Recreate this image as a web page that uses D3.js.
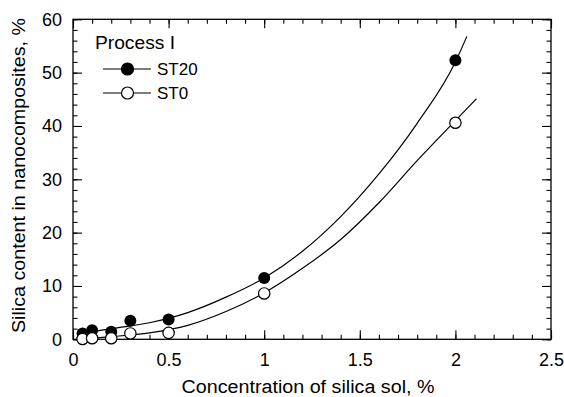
<!DOCTYPE html>
<html>
<head>
<meta charset="utf-8">
<script src="https://cdn.jsdelivr.net/npm/d3@7/dist/d3.min.js"></script>
<style>
body { margin: 0; background: #fff; }
text { font-family: "Liberation Sans", Arial, Helvetica, sans-serif; fill: #000; }
</style>
</head>
<body>
<div id="chart-area"></div>
<script>
// tick values
var xTicks = [0, 0.5, 1, 1.5, 2, 2.5];
var yTicks = [0, 10, 20, 30, 40, 50, 60];
var xMinor = d3.range(0, 2.51, 0.1);
var yMinor = d3.range(0, 60.1, 2);

// measured points
var sol = [0.05, 0.1, 0.2, 0.3, 0.5, 1, 2];
var st20 = [1.1, 1.7, 1.4, 3.5, 3.7, 11.5, 52.3];
var st0 = [0.06, 0.2, 0.2, 1.1, 1.2, 8.6, 40.6];

// fitted curves
var fit20X = [0.05, 0.1, 0.2, 0.4, 0.6, 0.8, 1.0, 1.2, 1.4, 1.6, 1.8, 2.0, 2.06];
var fit20Y = [1.1, 1.4, 2.0, 3.1, 5.0, 7.9, 11.5, 16.5, 23.0, 31.0, 40.5, 52.0, 56.8];
var fit0X = [0.05, 0.2, 0.4, 0.6, 0.8, 1.0, 1.2, 1.4, 1.6, 1.8, 2.0, 2.11];
var fit0Y = [0.1, 0.5, 1.2, 2.6, 5.2, 8.7, 13.3, 18.7, 25.6, 33.5, 41.0, 45.1];

var W = 564, H = 397;
var pLeft = 73, pRight = 551, pTop = 19.3, pBottom = 339.3;

var svg = d3.select("#chart-area").append("svg")
    .attr("width", W)
    .attr("height", H);

var x = d3.scaleLinear().domain([0, 2.5]).range([pLeft, pRight]);
var y = d3.scaleLinear().domain([0, 60]).range([pBottom, pTop]);

// minor ticks
svg.append("g").attr("transform", "translate(0," + pBottom + ")")
    .call(d3.axisBottom(x).tickValues(xMinor).tickSize(-4.5).tickFormat(""));
svg.append("g").attr("transform", "translate(0," + pTop + ")")
    .call(d3.axisTop(x).tickValues(xMinor).tickSize(-4.5).tickFormat(""));
svg.append("g").attr("transform", "translate(" + pLeft + ",0)")
    .call(d3.axisLeft(y).tickValues(yMinor).tickSize(-4.5).tickFormat(""));
svg.append("g").attr("transform", "translate(" + pRight + ",0)")
    .call(d3.axisRight(y).tickValues(yMinor).tickSize(-4.5).tickFormat(""));

// major ticks
svg.append("g").attr("class", "lab").attr("transform", "translate(0," + pBottom + ")")
    .call(d3.axisBottom(x).tickValues(xTicks).tickSize(-9).tickPadding(14).tickFormat(d3.format("")));
svg.append("g").attr("transform", "translate(0," + pTop + ")")
    .call(d3.axisTop(x).tickValues(xTicks).tickSize(-9).tickFormat(""));
svg.append("g").attr("class", "lab").attr("transform", "translate(" + pLeft + ",0)")
    .call(d3.axisLeft(y).tickValues(yTicks).tickSize(-9).tickPadding(11).tickFormat(d3.format("")));
svg.append("g").attr("transform", "translate(" + pRight + ",0)")
    .call(d3.axisRight(y).tickValues(yTicks).tickSize(-9).tickFormat(""));

svg.selectAll(".domain").remove();
svg.selectAll(".tick line").attr("stroke", "#000").attr("stroke-width", 1.1);
svg.selectAll(".lab text").attr("font-size", 18).attr("font-family", null);

// frame
svg.append("rect")
    .attr("x", pLeft).attr("y", pTop)
    .attr("width", pRight - pLeft).attr("height", pBottom - pTop)
    .attr("fill", "none").attr("stroke", "#000").attr("stroke-width", 1.3);

// curves
var line = d3.line()
    .x((d) => x(d[0]))
    .y((d) => y(d[1]))
    .curve(d3.curveMonotoneX);

svg.append("path")
    .datum(fit20X.map((v, i) => [v, fit20Y[i]]))
    .attr("d", line)
    .attr("fill", "none").attr("stroke", "#000").attr("stroke-width", 1.2);
svg.append("path")
    .datum(fit0X.map((v, i) => [v, fit0Y[i]]))
    .attr("d", line)
    .attr("fill", "none").attr("stroke", "#000").attr("stroke-width", 1.2);

// markers
svg.selectAll(".st20").data(sol).enter().append("circle")
    .attr("cx", (d) => x(d))
    .attr("cy", (d, i) => y(st20[i]))
    .attr("r", 6)
    .attr("fill", "#000");
svg.selectAll(".st0").data(sol).enter().append("circle")
    .attr("cx", (d) => x(d))
    .attr("cy", (d, i) => y(st0[i]))
    .attr("r", 5.7)
    .attr("fill", "#fff").attr("stroke", "#000").attr("stroke-width", 1.2);

// legend
var lg = svg.append("g");
lg.append("text").attr("x", 95).attr("y", 49).attr("font-size", 18)
    .attr("textLength", 80).attr("lengthAdjust", "spacingAndGlyphs").text("Process I");
[["ST20", "#000", 69], ["ST0", "#fff", 93]].forEach((r) => {
    lg.append("line").attr("x1", 103).attr("x2", 151).attr("y1", r[2]).attr("y2", r[2])
        .attr("stroke", "#000").attr("stroke-width", 1.2);
    lg.append("circle").attr("cx", 127.5).attr("cy", r[2]).attr("r", 6)
        .attr("fill", r[1]).attr("stroke", "#000").attr("stroke-width", 1.2);
    lg.append("text").attr("x", 157).attr("y", r[2] + 5.5).attr("font-size", 17).text(r[0]);
});

// axis titles
svg.append("text")
    .attr("x", 308).attr("y", 393)
    .attr("text-anchor", "middle").attr("font-size", 18)
    .attr("textLength", 253).attr("lengthAdjust", "spacingAndGlyphs")
    .text("Concentration of silica sol, %");
svg.append("text")
    .attr("transform", "translate(25,175.5) rotate(-90)")
    .attr("text-anchor", "middle").attr("font-size", 18)
    .attr("textLength", 315).attr("lengthAdjust", "spacingAndGlyphs")
    .text("Silica content in nanocomposites, %");
</script>
</body>
</html>
